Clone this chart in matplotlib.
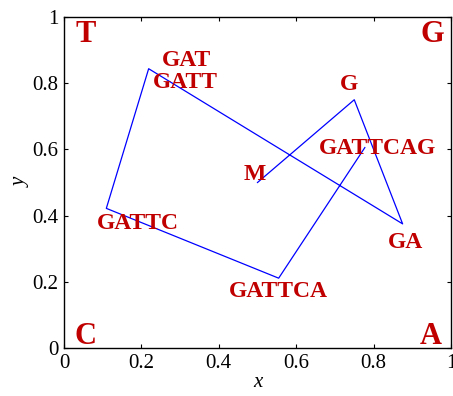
import matplotlib
matplotlib.use("Agg")
import matplotlib.pyplot as plt
from matplotlib.ticker import FormatStrFormatter

# chaos game path for "GATTCAG", starting from the centre
seq = "GATTCAG"
corners = {"A": (1.0, 0.0), "C": (0.0, 0.0), "G": (1.0, 1.0), "T": (0.0, 1.0)}
start = (0.5, 0.5)

# label offsets in pixels (right, up)
label_offsets = {
    "M": (-3, 8),
    "G": (-5, 15),
    "GA": (3, -19),
    "GAT": (-47, 60),
    "GATT": (37, -14),
    "GATTC": (32, -15),
    "GATTCA": (0, -13),
    "GATTCAG": (13, -1),
}

red = "#c00000"
plt.rcParams["font.family"] = ["Liberation Serif", "DejaVu Serif"]

fig = plt.figure(figsize=(4.53, 3.96), dpi=100)
ax = fig.add_axes([64 / 453, 48 / 396, 387 / 453, 331 / 396])

xs = [start[0]]
ys = [start[1]]
names = ["M"]
for i, ch in enumerate(seq):
    cx, cy = corners[ch]
    xs.append((xs[-1] + cx) / 2)
    ys.append((ys[-1] + cy) / 2)
    names.append(seq[: i + 1])

ax.plot(xs, ys, color="blue", lw=0.9)

for name, x, y in zip(names, xs, ys):
    dx, dy = label_offsets[name]
    ax.annotate(name, (x, y), xytext=(dx * 0.72, dy * 0.72), textcoords="offset points",
                ha="center", va="center", color=red, fontsize=17, fontweight="bold")

corner_pos = {"T": (86, 35), "G": (432, 35), "C": (85, 337), "A": (431, 337)}
for ch, (px, py) in corner_pos.items():
    ax.text((px - 64) / 387, (348 - py) / 331, ch, transform=ax.transAxes,
            ha="center", va="center", color=red, fontsize=22, fontweight="bold")

ax.set_xlim(0, 1)
ax.set_ylim(0, 1)
ax.set_xticks([0, 0.2, 0.4, 0.6, 0.8, 1])
ax.set_yticks([0, 0.2, 0.4, 0.6, 0.8, 1])
ax.xaxis.set_major_formatter(FormatStrFormatter("%g"))
ax.yaxis.set_major_formatter(FormatStrFormatter("%g"))
ax.tick_params(direction="in", top=True, right=True, length=3, width=0.8,
               labelsize=15, pad=4)
for s in ax.spines.values():
    s.set_linewidth(1.0)
ax.set_xlabel("x", fontsize=15, style="italic", labelpad=0)
ax.set_ylabel("y", fontsize=15, style="italic", labelpad=1)

fig.savefig("out.png", dpi=100)
